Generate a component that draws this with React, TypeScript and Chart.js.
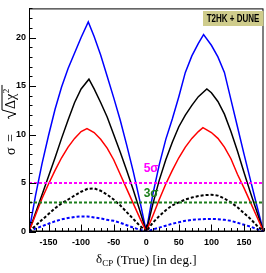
import React, { useEffect, useRef } from 'react';
import { Chart, registerables } from 'chart.js';
Chart.register(...registerables);

// ---- data (δCP true in degrees, σ values) ----
const blueSolidX = [-180,-170,-160,-150,-140,-130,-120,-110,-100,-89,-80,-70,-60,-50,-40,-30,-20,-10,0,10,20,30,40,50,60,70,80,88,100,110,120,130,140,150,160,170,180];
const blueSolidY = [0,3.7,7.0,9.9,12.6,14.9,16.8,18.4,20.0,21.6,20.1,18.2,16.0,13.8,11.5,8.9,6.2,3.2,0,3.8,6.9,9.5,11.6,13.9,16.4,18.1,19.4,20.3,19.2,18.0,16.4,13.6,10.8,8.0,5.3,2.6,0];

const blackSolidX = [-180,-170,-160,-150,-140,-130,-120,-110,-100,-88,-80,-70,-60,-50,-40,-30,-20,-10,0,10,20,30,40,50,60,70,80,93,100,110,120,130,140,150,160,170,180];
const blackSolidY = [0,1.9,3.8,5.7,7.6,9.6,11.5,13.3,14.7,15.7,14.7,13.3,11.8,10.0,8.2,6.3,4.3,2.2,0,2.8,5.3,7.4,9.2,10.8,12.0,13.0,13.9,14.7,14.3,13.4,12.1,10.3,8.3,6.1,4.0,2.0,0];

const redSolidX = [-180,-170,-160,-150,-140,-130,-120,-110,-100,-91,-80,-70,-60,-50,-40,-30,-20,-10,0,10,20,30,40,50,60,70,80,87,100,110,120,130,140,150,160,170,180];
const redSolidY = [0,1.7,3.4,4.9,6.3,7.6,8.7,9.6,10.3,10.6,10.2,9.5,8.6,7.4,5.9,4.4,2.9,1.4,0,1.6,3.3,4.9,6.3,7.6,8.7,9.6,10.3,10.7,10.2,9.6,8.7,7.5,5.9,4.5,3.0,1.5,0];

const dashGrid = [-180,-170,-160,-150,-140,-130,-120,-110,-100,-90,-80,-70,-60,-50,-40,-30,-20,-10,0,10,20,30,40,50,60,70,80,90,100,110,120,130,140,150,160,170,180];
const blackDashY = [0,0.6,1.2,1.8,2.4,2.9,3.3,3.7,4.1,4.4,4.45,4.2,3.8,3.3,2.7,2.0,1.3,0.6,0,0.9,1.6,2.2,2.7,3.0,3.3,3.5,3.65,3.75,3.78,3.7,3.4,3.0,2.5,1.9,1.3,0.6,0];
const blueDashY = [0,0.3,0.55,0.8,1.05,1.25,1.4,1.5,1.55,1.55,1.45,1.35,1.2,1.1,0.9,0.65,0.4,0.18,0,0.2,0.4,0.6,0.8,0.95,1.1,1.2,1.25,1.28,1.3,1.27,1.2,1.1,0.9,0.7,0.5,0.25,0];

const thresholdX = [-180, 180];
const fiveSigma = [5, 5];
const threeSigma = [3, 3];

const xTickLabels = [-150, -100, -50, 0, 50, 100, 150];
const yTickLabels = [0, 5, 10, 15, 20];

const GREEN = '#1b7f1b';
const MAGENTA = '#ff00ff';

function pts(xs: number[], ys: number[]) {
  return xs.map((x, i) => ({ x, y: ys[i] }));
}

const rootPlugin = {
  id: 'rootStyle',
  afterDatasetsDraw(chart: any) {
    const { ctx, chartArea: a, scales } = chart;
    const xs = scales.x, ys = scales.y;
    ctx.save();
    // frame
    ctx.strokeStyle = '#000';
    ctx.lineWidth = 1;
    ctx.strokeRect(a.left + 0.5, a.top + 0.5, a.right - a.left - 1, a.bottom - a.top - 1);
    // x ticks (inward)
    ctx.beginPath();
    for (let v = -180; v <= 180; v += 10) {
      const px = Math.round(xs.getPixelForValue(v)) + 0.5;
      const len = v % 50 === 0 ? 7 : 3.5;
      ctx.moveTo(px, a.bottom);
      ctx.lineTo(px, a.bottom - len);
    }
    // y ticks
    for (let v = 0; v <= 23; v += 1) {
      const py = Math.round(ys.getPixelForValue(v)) + 0.5;
      const len = v % 5 === 0 ? 7 : 3.5;
      ctx.moveTo(a.left, py);
      ctx.lineTo(a.left + len, py);
    }
    ctx.stroke();

    // sigma labels
    ctx.font = 'bold 12px "Liberation Sans"';
    ctx.textAlign = 'left';
    ctx.textBaseline = 'middle';
    ctx.fillStyle = MAGENTA;
    ctx.fillText('5σ', xs.getPixelForValue(-4), ys.getPixelForValue(6.5));
    ctx.fillStyle = GREEN;
    ctx.fillText('3σ', xs.getPixelForValue(-4), ys.getPixelForValue(3.9));

    // legend box
    ctx.fillStyle = '#cfcc8c';
    ctx.fillRect(203, 11, a.right - 203, 15);
    ctx.fillStyle = '#000';
    ctx.save();
    ctx.translate(233, 19);
    ctx.scale(0.8, 1);
    ctx.font = 'bold 10px "Liberation Sans"';
    ctx.textAlign = 'center';
    ctx.textBaseline = 'middle';
    ctx.fillText('T2HK + DUNE', 0, 0);
    ctx.restore();

    // x title
    const big = '13px "Liberation Serif"';
    const small = '9px "Liberation Serif"';
    ctx.fillStyle = '#000';
    ctx.textBaseline = 'alphabetic';
    ctx.textAlign = 'left';
    ctx.font = big;
    const w1 = ctx.measureText('δ').width;
    const w3 = ctx.measureText(' (True) [in deg.]').width;
    ctx.font = small;
    const w2 = ctx.measureText('CP').width;
    let sx = (a.left + a.right) / 2 - (w1 + w2 + w3) / 2;
    const by = 264;
    ctx.font = big;
    ctx.fillText('δ', sx, by - 1);
    sx += w1;
    ctx.font = small;
    ctx.fillText('CP', sx, by + 2);
    sx += w2;
    ctx.font = big;
    ctx.fillText(' (True) [in deg.]', sx, by);

    // y title: σ = √(Δχ²), rotated
    ctx.save();
    ctx.translate(15, (a.top + a.bottom) / 2);
    ctx.rotate(-Math.PI / 2);
    ctx.font = '14px "Liberation Serif"';
    ctx.textBaseline = 'alphabetic';
    const u0 = -35;
    ctx.fillText('σ', u0, 0);
    ctx.fillText('=', u0 + 13, 0);
    // radical
    const r0 = u0 + 36;
    ctx.lineWidth = 1;
    ctx.beginPath();
    ctx.moveTo(r0, -6);
    ctx.lineTo(r0 + 2, -7);
    ctx.lineTo(r0 + 5, 1);
    ctx.lineTo(r0 + 9, -13);
    ctx.lineTo(r0 + 34, -13);
    ctx.stroke();
    ctx.fillText('Δχ', r0 + 10, 0);
    const wd = ctx.measureText('Δχ').width;
    ctx.font = '9px "Liberation Serif"';
    ctx.fillText('2', r0 + 10 + wd + 0.5, -6);
    ctx.restore();

    ctx.restore();
  },
};

export default function App() {
  const ref = useRef<HTMLCanvasElement>(null);
  useEffect(() => {
    document.body.style.margin = '0';
    const solid = (data: any, color: string) => ({
      data, borderColor: color, borderWidth: 1.5, pointRadius: 0, fill: false, tension: 0,
    });
    const dashed = (data: any, color: string) => ({
      data, borderColor: color, borderWidth: 2, borderDash: [3, 2], pointRadius: 0, fill: false, tension: 0,
    });
    const chart = new Chart(ref.current as HTMLCanvasElement, {
      type: 'line',
      data: {
        datasets: [
          dashed(pts(thresholdX, fiveSigma), MAGENTA),
          dashed(pts(thresholdX, threeSigma), GREEN),
          dashed(pts(dashGrid, blackDashY), '#000000'),
          dashed(pts(dashGrid, blueDashY), '#0000ff'),
          solid(pts(redSolidX, redSolidY), '#ff0000'),
          solid(pts(blackSolidX, blackSolidY), '#000000'),
          solid(pts(blueSolidX, blueSolidY), '#0000ff'),
        ],
      },
      options: {
        animation: false,
        responsive: false,
        events: [],
        layout: { padding: { top: 5, right: 2.5, left: 0, bottom: 0 } },
        plugins: { legend: { display: false }, tooltip: { enabled: false }, title: { display: false } },
        scales: {
          x: {
            type: 'linear', min: -180, max: 180,
            grid: { display: false, drawTicks: false },
            border: { display: true, color: '#000', width: 1 },
            afterBuildTicks: (s: any) => { s.ticks = xTickLabels.map(v => ({ value: v })); },
            afterFit: (s: any) => { s.height = 41.5; },
            ticks: { color: '#000', padding: 6, maxRotation: 0, autoSkip: false, font: { family: '"Liberation Sans"', size: 9, weight: 'bold' } },
          },
          y: {
            type: 'linear', min: 0, max: 23,
            grid: { display: false, drawTicks: false },
            border: { display: true, color: '#000', width: 1 },
            afterBuildTicks: (s: any) => { s.ticks = yTickLabels.map(v => ({ value: v })); },
            afterFit: (s: any) => { s.width = 29; },
            ticks: { color: '#000', padding: 3, autoSkip: false, font: { family: '"Liberation Sans"', size: 9, weight: 'bold' } },
          },
        },
      },
      plugins: [rootPlugin],
    } as any);
    return () => chart.destroy();
  }, []);
  return <canvas ref={ref} width={266} height={273} style={{ display: 'block' }} />;
}
